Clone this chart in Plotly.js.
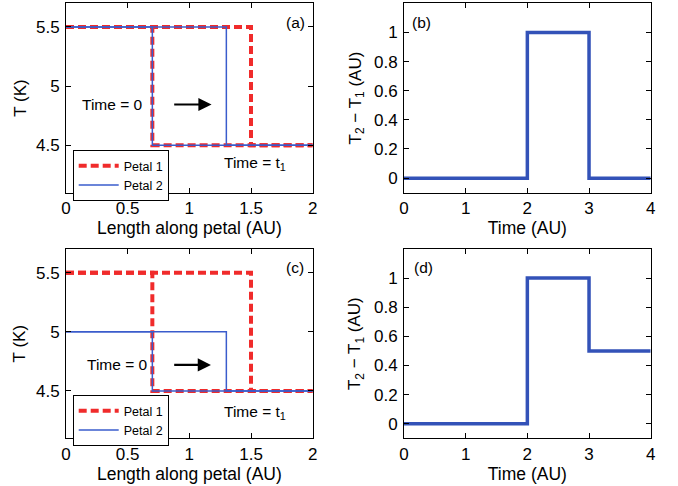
<!DOCTYPE html>
<html>
<head>
<meta charset="utf-8">
<script src="https://cdn.plot.ly/plotly-3.0.1.min.js"></script>
<style>html,body{margin:0;padding:0;background:#fff;}#chart{width:678px;height:486px;}</style>
</head>
<body>
<div id="chart"></div>
<script>
// Panel (a)/(c): temperature profiles along petal
const lengthStep0 = [0, 0.7, 0.7, 2];      // Time = 0 profile
const lengthStep1 = [0, 1.5, 1.5, 2];      // Petal 1 at Time = t1
const lengthStep2 = [0, 1.3, 1.3, 2];      // Petal 2 at Time = t1
const petal1_T = [5.5, 5.5, 4.5, 4.5];
const petal2_T_a = [5.5, 5.5, 4.5, 4.5];
const petal2_T_c = [5.0, 5.0, 4.5, 4.5];
// Panel (b)/(d): temperature difference over time
const timeAU = [0, 2, 2, 3, 3, 4];
const diff_b = [0, 0, 1, 1, 0, 0];
const diff_d = [0, 0, 1, 1, 0.5, 0.5];
const xTicksLen = [0, 0.5, 1, 1.5, 2];
const yTicksT = [4.5, 5, 5.5];
const xTicksTime = [0, 1, 2, 3, 4];
const yTicksDiff = [0, 0.2, 0.4, 0.6, 0.8, 1];

const RED = '#f02b2b', BLUE = '#3a5ccc', BLUE2 = '#3352b8';
const FONT = 'Liberation Sans, Arial, sans-serif';

function red(x, y, xa, ya, show, leg) {
  return {x: x, y: y, xaxis: xa, yaxis: ya, mode: 'lines', name: 'Petal 1',
    showlegend: show, legend: leg, legendgroup: leg + 'p1',
    line: {color: RED, width: 4, dash: '8px,4px'}};
}
function blue(x, y, xa, ya, show, leg) {
  return {x: x, y: y, xaxis: xa, yaxis: ya, mode: 'lines', name: 'Petal 2',
    showlegend: show, legend: leg, legendgroup: leg + 'p2',
    line: {color: BLUE, width: 1.5}};
}

const traces = [
  red(lengthStep0, petal1_T, 'x', 'y', true, 'legend'),
  red(lengthStep1, petal1_T, 'x', 'y', false, 'legend'),
  blue(lengthStep0, petal2_T_a, 'x', 'y', true, 'legend'),
  blue(lengthStep2, petal2_T_a, 'x', 'y', false, 'legend'),
  {x: timeAU, y: diff_b, xaxis: 'x2', yaxis: 'y2', mode: 'lines', showlegend: false,
   line: {color: BLUE2, width: 3.5}},
  red(lengthStep0, petal1_T, 'x3', 'y3', true, 'legend2'),
  red(lengthStep1, petal1_T, 'x3', 'y3', false, 'legend2'),
  blue(lengthStep0, petal2_T_c, 'x3', 'y3', true, 'legend2'),
  blue(lengthStep2, petal2_T_c, 'x3', 'y3', false, 'legend2'),
  {x: timeAU, y: diff_d, xaxis: 'x4', yaxis: 'y4', mode: 'lines', showlegend: false,
   line: {color: BLUE2, width: 3.5}}
];

const W = 678, H = 486;
const colL = [66 / W, 312.7 / W], colR = [404 / W, 650.7 / W];
const rowT = [(H - 192.7) / H, (H - 3.3) / H], rowB = [(H - 438.3) / H, (H - 249) / H];

function ax(extra) {
  return Object.assign({
    showgrid: false, zeroline: false, showline: true, mirror: 'ticks',
    linecolor: '#000', linewidth: 1, ticks: 'inside', ticklen: 5, tickcolor: '#000',
    ticklabelstandoff: 2,
    tickfont: {family: FONT, size: 17, color: '#000'}, fixedrange: true
  }, extra);
}
function xt(t) { return {text: t, font: {family: FONT, size: 17.5, color: '#000'}, standoff: 2}; }
function yt(t, s) { return {text: t, font: {family: FONT, size: 17, color: '#000'}, standoff: s}; }

function ann(xr, yr, x, y, t, size) {
  return {xref: xr, yref: yr, x: x, y: y, text: t, showarrow: false,
    xanchor: 'center', yanchor: 'middle',
    font: {family: FONT, size: size || 15.5, color: '#000'}};
}
function arrow(xr, yr, x0, x1, y) {
  return {xref: xr, yref: yr, axref: xr, ayref: yr, x: x1, y: y, ax: x0, ay: y,
    showarrow: true, arrowhead: 2, arrowsize: 1.2, arrowwidth: 2.2, arrowcolor: '#000', text: ''};
}

const legStyle = {bgcolor: '#fff', bordercolor: '#000', borderwidth: 1,
  font: {family: FONT, size: 12.5, color: '#000'}, tracegroupgap: 0, itemwidth: 40,
  xanchor: 'left', yanchor: 'top'};

const layout = {
  width: W, height: H, margin: {l: 0, r: 0, t: 0, b: 0},
  paper_bgcolor: '#fff', plot_bgcolor: '#fff',
  font: {family: FONT, color: '#000'},
  xaxis: ax({domain: colL, range: [0, 2], tickvals: xTicksLen, anchor: 'y', ticklabelstandoff: 0, title: xt('Length along petal (AU)')}),
  yaxis: ax({domain: rowT, range: [4.1, 5.7], tickvals: yTicksT, anchor: 'x', title: yt('T (K)', 5)}),
  xaxis2: ax({domain: colR, range: [0, 4], tickvals: xTicksTime, anchor: 'y2', ticklabelstandoff: 0, title: xt('Time (AU)')}),
  yaxis2: ax({domain: rowT, range: [-0.1, 1.2], tickvals: yTicksDiff, anchor: 'x2', title: yt('T<sub>2</sub> − T<sub>1</sub> (AU)', 8)}),
  xaxis3: ax({domain: colL, range: [0, 2], tickvals: xTicksLen, anchor: 'y3', ticklabelstandoff: 0, title: xt('Length along petal (AU)')}),
  yaxis3: ax({domain: rowB, range: [4.1, 5.7], tickvals: yTicksT, anchor: 'x3', title: yt('T (K)', 5)}),
  xaxis4: ax({domain: colR, range: [0, 4], tickvals: xTicksTime, anchor: 'y4', ticklabelstandoff: 0, title: xt('Time (AU)')}),
  yaxis4: ax({domain: rowB, range: [-0.1, 1.2], tickvals: yTicksDiff, anchor: 'x4', title: yt('T<sub>2</sub> − T<sub>1</sub> (AU)', 8)}),
  legend: Object.assign({x: 72.7 / W, y: (H - 150) / H}, legStyle),
  legend2: Object.assign({x: 72.7 / W, y: (H - 395) / H}, legStyle),
  annotations: [
    ann('x domain', 'y domain', 0.93, 0.9, '(a)'),
    ann('x2 domain', 'y2 domain', 0.072, 0.9, '(b)'),
    ann('x3 domain', 'y3 domain', 0.93, 0.9, '(c)'),
    ann('x4 domain', 'y4 domain', 0.078, 0.9, '(d)'),
    ann('x', 'y', 0.38, 4.845, 'Time = 0'),
    ann('x', 'y', 1.53, 4.35, 'Time = t<sub>1</sub>'),
    arrow('x', 'y', 0.865, 1.18, 4.845),
    ann('x3', 'y3', 0.42, 4.72, 'Time = 0'),
    ann('x3', 'y3', 1.53, 4.32, 'Time = t<sub>1</sub>'),
    arrow('x3', 'y3', 0.865, 1.175, 4.72)
  ]
};

Plotly.newPlot('chart', traces, layout, {displayModeBar: false, staticPlot: true});
</script>
</body>
</html>
